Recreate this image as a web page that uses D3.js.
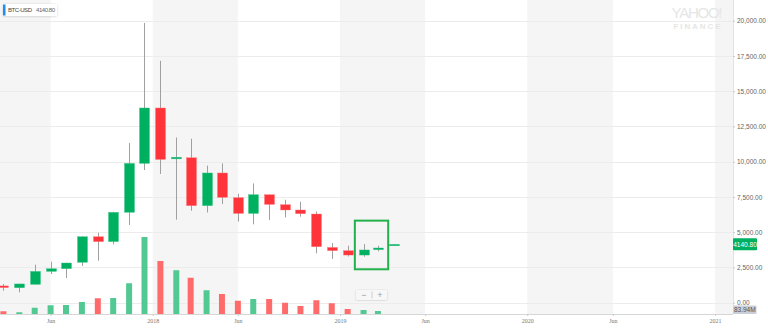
<!DOCTYPE html>
<html>
<head>
<meta charset="utf-8">
<script src="https://cdn.jsdelivr.net/npm/d3@7"></script>
<style>
  body { margin: 0; background: #fff; }
  svg { display: block; font-family: "Liberation Sans", Arial, sans-serif; }
</style>
</head>
<body>
<div id="chart"></div>
<script>
// monthly candles, BTC-USD
let months = ["2017-03","2017-04","2017-05","2017-06","2017-07","2017-08","2017-09","2017-10","2017-11","2017-12",
              "2018-01","2018-02","2018-03","2018-04","2018-05","2018-06","2018-07","2018-08","2018-09","2018-10","2018-11","2018-12",
              "2019-01","2019-02","2019-03","2019-04"];
let openVals  = [1190,1060,1300,2220,2410,2865,4680,4330,6410,9880, 13810,10200,10280,6880,9200,7450,6330,7660,6950,6575,6290,3920, 3690,3380,3760,4100];
let highVals  = [1330,1340,2700,2910,2830,4700,4960,6450,11330,19840, 17160,11720,11630,9720,9880,7730,8460,7660,7300,7160,6470,4230, 4040,4160,4040,4150];
let lowVals   = [850,730,1300,2035,1750,2600,2980,4140,5510,9410, 9130,5890,6520,6400,7000,5745,5560,5860,6050,6100,3500,3100, 3280,3260,3640,4100];
let closeVals = [1070,1330,2220,2410,2815,4680,4330,6410,9880,13810, 10160,10320,6880,9200,7470,6330,7660,6970,6575,6310,3970,3690, 3380,3740,3880,4140.8];
// volume, billions USD
let volumes   = [11,7,25,35,36,48,63,64,123,308, 212,175,145,95,80,53,60,60,45,32,55,43, 20,16,12,0.084];

let priceTicks = [0,2500,5000,7500,10000,12500,15000,17500,20000];
let dateTicks  = ["2017-06-16","2018-01-01","2018-06-16","2019-01-01","2019-06-16","2020-01-01","2020-06-16","2021-01-01"];
let dateLabels = ["Jun","2018","Jun","2019","Jun","2020","Jun","2021"];
let bandYears  = [2017,2018,2019,2020,2021];

// green box drawn round Feb-Mar 2019
let highlightDates  = ["2019-01-30","2019-04-05"];
let highlightPrices = [5820,2370];

let lastPrice = "4140.80";
let lastVolume = "83.94M";

let width = 768, height = 336;
let plotRight = 733, plotBottom = 314;

let green = "#00b061", red = "#ff333a";
let volGreen = "#52c993", volRed = "#ff6b6b";

let parse = d3.utcParse("%Y-%m-%d");

let candles = months.map(function(m, i) {
  return { date: parse(m + "-16"), o: openVals[i], h: highVals[i], l: lowVals[i], c: closeVals[i], v: volumes[i] };
});

let x = d3.scaleUtc()
  .domain([parse("2018-01-01"), parse("2021-01-01")])
  .range([152.7, 715]);

let y = d3.scaleLinear().domain([0, 20000]).range([302.7, 20.7]);
let yVol = d3.scaleLinear().domain([0, 320]).range([plotBottom, plotBottom - 80]);

let svg = d3.select("#chart").append("svg")
  .attr("width", width).attr("height", height);

svg.append("defs").append("clipPath").attr("id", "plot")
  .append("rect").attr("x", 0).attr("y", 0).attr("width", plotRight).attr("height", plotBottom);

svg.append("defs").append("filter").attr("id", "shadow")
  .append("feDropShadow").attr("dx", 0).attr("dy", 0.5).attr("stdDeviation", 0.8)
  .attr("flood-color", "#000").attr("flood-opacity", 0.18);

let plot = svg.append("g").attr("clip-path", "url(#plot)");

// shaded bands Jan -> mid June of each year
plot.selectAll(".band").data(bandYears).join("rect")
  .attr("class", "band")
  .attr("x", d => x(parse(d + "-01-01")))
  .attr("width", d => x(parse(d + "-06-16")) - x(parse(d + "-01-01")))
  .attr("y", 0).attr("height", plotBottom)
  .attr("fill", "#f5f5f5");

// horizontal grid
plot.selectAll(".grid").data(priceTicks).join("line")
  .attr("class", "grid")
  .attr("x1", 0).attr("x2", plotRight)
  .attr("y1", d => Math.round(y(d)) + 0.5).attr("y2", d => Math.round(y(d)) + 0.5)
  .attr("stroke", "#ececec");

// yahoo logo
svg.append("text").attr("x", 697).attr("y", 17.5).attr("text-anchor", "middle")
  .attr("font-size", 15).attr("fill", "#e6e6e6").attr("textLength", 51).text("YAHOO!");
svg.append("text").attr("x", 697).attr("y", 28.5).attr("text-anchor", "middle")
  .attr("font-size", 8).attr("font-weight", "bold").attr("fill", "#e6e6e6")
  .attr("textLength", 47).text("FINANCE");

// volume bars
plot.selectAll(".vol").data(candles).join("rect")
  .attr("class", "vol")
  .attr("x", d => x(d.date) - 3).attr("width", 6)
  .attr("y", d => yVol(d.v)).attr("height", d => plotBottom - yVol(d.v))
  .attr("fill", d => d.c >= d.o ? volGreen : volRed);

// wicks
plot.selectAll(".wick").data(candles).join("line")
  .attr("class", "wick")
  .attr("x1", d => Math.round(x(d.date)) + 0.5).attr("x2", d => Math.round(x(d.date)) + 0.5)
  .attr("y1", d => y(d.h)).attr("y2", d => y(d.l))
  .attr("stroke", "#a0a0a0");

// bodies
plot.selectAll(".body").data(candles).join("rect")
  .attr("class", "body")
  .attr("x", d => Math.round(x(d.date)) - 4.5).attr("width", 10)
  .attr("y", d => y(Math.max(d.o, d.c)))
  .attr("height", d => Math.max(1.5, Math.abs(y(d.o) - y(d.c))))
  .attr("fill", d => d.c >= d.o ? green : red)
  .attr("stroke", d => d.c >= d.o ? "#3cc587" : "#ff7a7e").attr("stroke-width", 0.4);

// highlight box
svg.append("rect")
  .attr("x", x(parse(highlightDates[0]))).attr("width", x(parse(highlightDates[1])) - x(parse(highlightDates[0])))
  .attr("y", y(highlightPrices[0])).attr("height", y(highlightPrices[1]) - y(highlightPrices[0]))
  .attr("fill", "none").attr("stroke", "#22b14c").attr("stroke-width", 2);

// x axis
let xAxis = d3.axisBottom(x)
  .tickValues(dateTicks.map(parse))
  .tickFormat((d, i) => dateLabels[i])
  .tickSize(2).tickPadding(3);

let gx = svg.append("g").attr("transform", "translate(0," + plotBottom + ")").call(xAxis);
gx.select(".domain").attr("d", "M0,0.5H" + plotRight).attr("stroke", "#d6d6d6");
gx.selectAll(".tick line").attr("stroke", "#ccc");
gx.selectAll(".tick text").attr("font-size", 6).attr("fill", "#777").attr("font-family", "\"Liberation Serif\", serif");

// y axis on the right
let yAxis = d3.axisRight(y)
  .tickValues(priceTicks)
  .tickFormat(d3.format(",.2f"))
  .tickSize(2).tickPadding(2);

let gy = svg.append("g").attr("transform", "translate(" + plotRight + ",0)").call(yAxis);
gy.select(".domain").attr("d", "M0.5,0V" + plotBottom).attr("stroke", "#e2e2e2");
gy.selectAll(".tick line").attr("stroke", "#ccc");
gy.selectAll(".tick text").attr("font-size", 6.5).attr("fill", "#666");

// last price badge
let lastY = y(closeVals[closeVals.length - 1]);
svg.append("rect").attr("x", plotRight).attr("y", lastY - 6).attr("width", 24).attr("height", 12)
  .attr("rx", 1).attr("fill", green);
svg.append("text").attr("x", plotRight + 12).attr("y", lastY + 2.3).attr("text-anchor", "middle")
  .attr("font-size", 6.5).attr("fill", "#fff").text(lastPrice);

// last volume badge
svg.append("rect").attr("x", plotRight).attr("y", 305.5).attr("width", 23.5).attr("height", 8.5)
  .attr("rx", 1).attr("fill", "#c9ced8");
svg.append("text").attr("x", plotRight + 11.75).attr("y", 312).attr("text-anchor", "middle")
  .attr("font-size", 6.5).attr("fill", "#555").text(lastVolume);

// legend chip top left
let legend = svg.append("g");
legend.append("rect").attr("x", 3).attr("y", 4).attr("width", 54).attr("height", 12)
  .attr("rx", 1.5).attr("fill", "#fff").attr("filter", "url(#shadow)");
legend.append("rect").attr("x", 3).attr("y", 4.5).attr("width", 2.5).attr("height", 11).attr("fill", "#1a8cff");
legend.append("text").attr("x", 8).attr("y", 12.3).attr("font-size", 6).attr("fill", "#444")
  .attr("textLength", 24).text("BTC-USD");
legend.append("text").attr("x", 36).attr("y", 12.3).attr("font-size", 6).attr("fill", "#666")
  .attr("textLength", 19).text(lastPrice);

// zoom buttons
let zoomCtl = svg.append("g");
zoomCtl.append("rect").attr("x", 356).attr("y", 290).attr("width", 31).attr("height", 10)
  .attr("rx", 1.5).attr("fill", "#f7f7f7").attr("filter", "url(#shadow)");
zoomCtl.append("line").attr("x1", 372).attr("x2", 372).attr("y1", 291.5).attr("y2", 298.5).attr("stroke", "#ccc");
zoomCtl.append("text").attr("x", 364).attr("y", 297.8).attr("text-anchor", "middle")
  .attr("font-size", 9).attr("fill", "#999").text("\u2212");
zoomCtl.append("text").attr("x", 380).attr("y", 298).attr("text-anchor", "middle")
  .attr("font-size", 9).attr("fill", "#999").text("+");
</script>
</body>
</html>
